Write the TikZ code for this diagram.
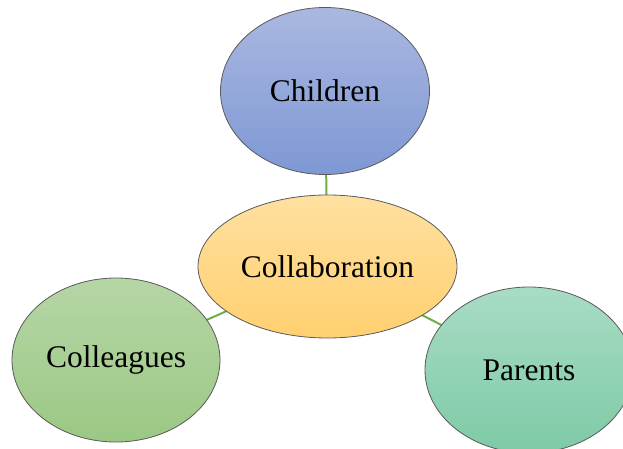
\documentclass[tikz,border=0pt]{standalone}
\usepackage{fontspec}
\setmainfont{Liberation Serif}
\usetikzlibrary{shapes.geometric,backgrounds}
\definecolor{edgegreen}{HTML}{70AD47}
\definecolor{rimgray}{HTML}{5A5A5A}
\tikzset{
  bubble/.style={ellipse, draw=rimgray, line width=0.8pt, inner sep=0pt,
    font=\fontsize{31.5}{36}\selectfont, text=black},
  link/.style={draw=edgegreen, line width=2pt},
}
\begin{document}
\begin{tikzpicture}[x=1pt,y=-1pt]
\clip (0,0) rectangle (623,449);
\node[bubble, minimum width=209pt, minimum height=167pt,
  top color={rgb,255:red,170;green,184;blue,224},
  bottom color={rgb,255:red,126;green,152;blue,212}] (child) at (325,91) {Children};
\node[bubble, minimum width=259pt, minimum height=143pt,
  top color={rgb,255:red,255;green,224;blue,160},
  bottom color={rgb,255:red,255;green,208;blue,112}] (collab) at (327.5,266.5) {Collaboration};
\node[bubble, minimum width=208pt, minimum height=164pt,
  top color={rgb,255:red,182;green,214;blue,166},
  bottom color={rgb,255:red,155;green,200;blue,132}] (colleag) at (116,360) {Colleagues};
\node[bubble, minimum width=208pt, minimum height=166pt,
  top color={rgb,255:red,168;green,220;blue,197},
  bottom color={rgb,255:red,126;green,202;blue,166}] (parent) at (529,370) {Parents};
\begin{scope}[on background layer]
  \draw[link] (child.center) -- (collab.center);
  \draw[link] (collab.center) -- (colleag.center);
  \draw[link] (collab.center) -- (parent.center);
\end{scope}
\end{tikzpicture}
\end{document}
